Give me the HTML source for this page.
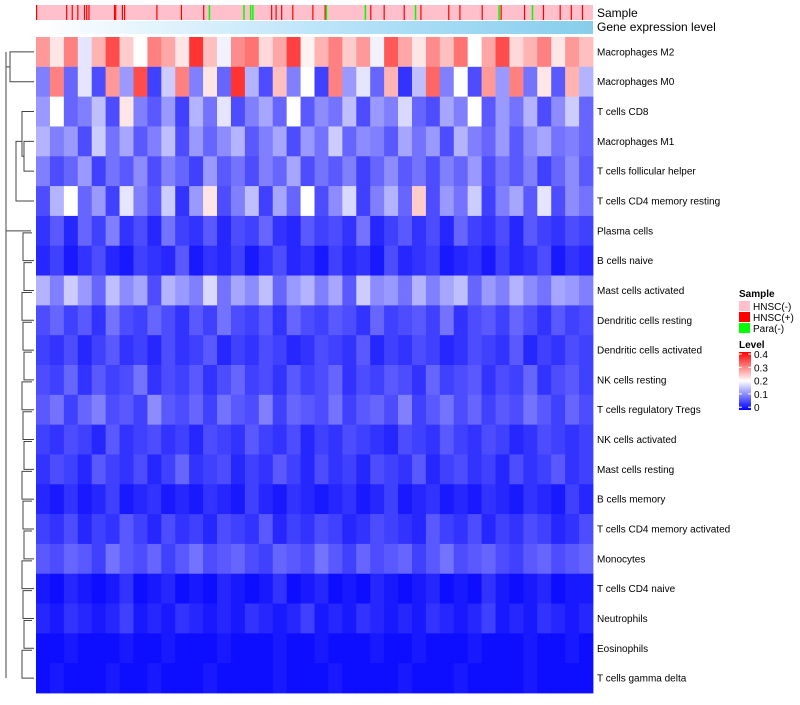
<!DOCTYPE html>
<html><head><meta charset="utf-8"><style>
body{margin:0;background:#fff;font-family:"Liberation Sans",sans-serif;}
svg text{font-family:"Liberation Sans",sans-serif;}
</style></head><body>
<svg id="c" width="800" height="700"></svg>
<script>
const rowNames=["Macrophages M2","Macrophages M0","T cells CD8","Macrophages M1","T cells follicular helper","T cells CD4 memory resting","Plasma cells","B cells naive","Mast cells activated","Dendritic cells resting","Dendritic cells activated","NK cells resting","T cells regulatory  Tregs","NK cells activated","Mast cells resting","B cells memory","T cells CD4 memory activated","Monocytes","T cells CD4 naive","Neutrophils","Eosinophils","T cells gamma delta"];
const values=[
[.28,.22,.3,.18,.26,.34,.24,.2,.3,.27,.22,.36,.25,.19,.29,.31,.23,.27,.35,.21,.26,.3,.24,.28,.19,.33,.27,.22,.29,.25,.31,.2,.27,.34,.23,.26,.3,.22,.28,.25],
[.1,.3,.08,.18,.06,.28,.12,.34,.05,.16,.3,.1,.22,.08,.36,.14,.06,.25,.1,.2,.05,.3,.12,.18,.08,.26,.04,.15,.32,.1,.2,.06,.28,.12,.3,.09,.22,.07,.26,.14],
[.12,.2,.08,.1,.15,.06,.22,.1,.07,.12,.05,.14,.09,.18,.06,.1,.13,.08,.2,.07,.11,.09,.15,.06,.12,.1,.17,.08,.06,.13,.1,.2,.07,.12,.09,.14,.06,.11,.16,.08],
[.14,.1,.12,.06,.16,.09,.13,.07,.1,.15,.06,.12,.08,.11,.14,.07,.1,.13,.06,.12,.09,.16,.08,.11,.1,.07,.13,.09,.12,.06,.14,.1,.08,.12,.07,.11,.13,.09,.1,.08],
[.1,.06,.08,.12,.05,.09,.07,.11,.06,.1,.08,.05,.12,.07,.09,.06,.1,.08,.13,.06,.09,.07,.1,.05,.08,.11,.07,.09,.06,.1,.08,.12,.06,.09,.07,.1,.05,.08,.11,.07],
[.06,.14,.2,.08,.12,.05,.18,.1,.07,.16,.04,.12,.22,.06,.1,.15,.05,.13,.08,.2,.06,.11,.17,.05,.1,.14,.08,.24,.06,.12,.09,.16,.05,.1,.13,.07,.18,.06,.11,.09],
[.04,.07,.03,.08,.05,.1,.04,.06,.03,.09,.05,.04,.07,.03,.06,.05,.08,.04,.03,.07,.05,.06,.04,.09,.03,.05,.07,.04,.06,.03,.08,.05,.04,.06,.03,.07,.05,.04,.06,.05],
[.03,.05,.02,.04,.06,.03,.02,.05,.04,.03,.07,.02,.04,.03,.05,.02,.04,.06,.03,.04,.02,.05,.03,.04,.02,.06,.03,.04,.05,.02,.03,.04,.02,.05,.03,.04,.06,.02,.04,.03],
[.14,.1,.16,.12,.08,.15,.11,.13,.06,.14,.12,.1,.17,.09,.13,.11,.15,.08,.12,.14,.1,.13,.07,.16,.11,.12,.09,.14,.1,.13,.15,.08,.12,.1,.14,.11,.09,.13,.12,.1],
[.06,.08,.05,.07,.04,.09,.06,.05,.08,.06,.04,.07,.05,.09,.06,.05,.07,.04,.08,.06,.05,.07,.06,.04,.08,.05,.06,.07,.05,.09,.04,.06,.07,.05,.08,.06,.04,.07,.05,.06],
[.05,.04,.06,.03,.05,.07,.04,.05,.03,.06,.04,.05,.07,.03,.05,.04,.06,.05,.03,.04,.06,.05,.04,.07,.03,.05,.04,.06,.05,.03,.04,.06,.05,.04,.07,.03,.05,.04,.06,.05],
[.06,.05,.08,.04,.07,.05,.06,.09,.04,.06,.05,.07,.04,.06,.08,.05,.06,.04,.07,.05,.06,.08,.04,.06,.05,.07,.06,.04,.08,.05,.06,.07,.04,.06,.05,.08,.04,.06,.07,.05],
[.07,.09,.05,.08,.1,.06,.07,.05,.11,.07,.06,.08,.05,.09,.07,.06,.1,.05,.08,.07,.06,.09,.05,.07,.08,.06,.1,.05,.07,.09,.06,.08,.05,.07,.06,.09,.07,.05,.08,.06],
[.05,.04,.06,.05,.03,.07,.04,.05,.06,.04,.05,.03,.06,.05,.04,.07,.05,.04,.06,.03,.05,.04,.06,.05,.04,.03,.06,.05,.04,.07,.05,.04,.06,.05,.03,.04,.06,.05,.04,.05],
[.04,.06,.05,.03,.07,.05,.04,.06,.03,.05,.08,.04,.05,.06,.03,.05,.04,.07,.05,.03,.06,.04,.05,.03,.06,.05,.04,.07,.03,.05,.06,.04,.05,.03,.06,.04,.05,.07,.04,.05],
[.03,.02,.04,.02,.03,.05,.02,.03,.04,.02,.03,.02,.04,.03,.02,.05,.03,.02,.04,.03,.02,.03,.04,.02,.03,.05,.02,.03,.04,.02,.03,.02,.04,.03,.02,.04,.03,.02,.05,.03],
[.05,.04,.06,.03,.05,.04,.07,.05,.03,.06,.04,.05,.03,.06,.05,.04,.07,.03,.05,.04,.06,.05,.03,.04,.06,.05,.04,.03,.07,.05,.04,.06,.03,.05,.04,.06,.05,.03,.04,.06],
[.07,.06,.08,.07,.05,.09,.07,.06,.08,.05,.07,.09,.06,.07,.08,.06,.05,.08,.07,.06,.09,.07,.05,.08,.06,.07,.08,.05,.07,.09,.06,.07,.08,.06,.05,.07,.08,.06,.07,.08],
[.02,.01,.03,.02,.01,.02,.04,.01,.02,.03,.01,.02,.01,.03,.02,.01,.02,.04,.01,.02,.03,.01,.02,.01,.03,.02,.01,.02,.03,.01,.02,.01,.04,.02,.01,.02,.03,.01,.02,.02],
[.03,.02,.04,.03,.02,.03,.05,.02,.03,.02,.04,.03,.02,.03,.02,.04,.03,.02,.03,.05,.02,.03,.02,.04,.03,.02,.03,.02,.04,.03,.02,.03,.05,.02,.03,.02,.04,.03,.02,.03],
[.01,.01,.02,.01,.01,.01,.02,.01,.01,.02,.01,.01,.01,.02,.01,.01,.01,.02,.01,.01,.02,.01,.01,.01,.02,.01,.01,.02,.01,.01,.01,.02,.01,.01,.01,.02,.01,.01,.02,.01],
[.01,.02,.01,.01,.01,.02,.01,.01,.02,.01,.01,.01,.02,.01,.01,.01,.01,.02,.01,.01,.01,.02,.01,.01,.01,.01,.02,.01,.01,.01,.02,.01,.01,.01,.01,.02,.01,.01,.01,.01]
];
const nSamples=500;
const hnscPos=[0,27,32,37,43,45,47,70,71,77,79,108,130,150,211,215,220,230,248,259,300,312,330,345,370,380,400,417,438,455,470,480,490];
const paraPos=[155,186,192,194,260,295,340,415,445];
const legendTicks=["0.4","0.3","0.2","0.1","0"];

const svg=document.getElementById('c');
const NS='http://www.w3.org/2000/svg';
function mk(t,a,p){const e=document.createElementNS(NS,t);for(const k in a)e.setAttribute(k,a[k]);(p||svg).appendChild(e);return e;}
const X0=36,X1=593,Y0=37,Y1=693;
const nCols=values[0].length;
const rowH=(Y1-Y0)/rowNames.length, colW=(X1-X0)/nCols;
const xs=i=>X0+i*colW, ys=r=>Y0+r*rowH;
function col(v){v=Math.max(0,Math.min(.4,v));let r,g,b;
 if(v<.2){const t=v/.2;r=Math.round(255*t);g=r;b=255;}else{const t=(v-.2)/.2;r=255;g=Math.round(255*(1-t));b=g;}
 return `rgb(${r},${g},${b})`;}
const sb=mk('rect',{x:X0,y:5,width:X1-X0,height:15,fill:'#FFC0CB'});

const sw=(X1-X0)/nSamples;
hnscPos.forEach(p=>{const e=mk('rect',{x:X0+p*sw,y:5,width:Math.max(1.2,sw),height:15,fill:'#FF0000'});
 });
paraPos.forEach(p=>{const e=mk('rect',{x:X0+p*sw,y:5,width:Math.max(1.5,sw),height:15,fill:'#00FF00'});
 });
const defs=mk('defs',{});
const lg=mk('linearGradient',{id:'ge',x1:0,x2:1,y1:0,y2:0},defs);
mk('stop',{offset:0,'stop-color':'#ffffff'},lg);mk('stop',{offset:.6,'stop-color':'#b0e0f8'},lg);mk('stop',{offset:1,'stop-color':'#87CEEB'},lg);
const lg2=mk('linearGradient',{id:'lv',x1:0,x2:0,y1:0,y2:1},defs);
mk('stop',{offset:0,'stop-color':'#ff0000'},lg2);mk('stop',{offset:.5,'stop-color':'#ffffff'},lg2);mk('stop',{offset:1,'stop-color':'#0000ff'},lg2);
const gb=mk('rect',{x:X0,y:21,width:X1-X0,height:13,fill:'url(#ge)'});

let t=mk('text',{x:597,y:17,'font-size':12});t.textContent='Sample';

t=mk('text',{x:597,y:31,'font-size':12});t.textContent='Gene expression level';

values.forEach((row,r)=>{row.forEach((v,i)=>{const e=mk('rect',{x:xs(i),y:ys(r),width:colW+0.4,height:rowH+0.4,fill:col(v)});
 });
 const l=mk('text',{x:597,y:ys(r)+rowH/2+3.5,'font-size':10});l.textContent=rowNames[r];
 });
const cy=r=>ys(r)+rowH/2;
const dg=mk('g',{stroke:'#444','stroke-width':1,fill:'none'});

function link(y1,y2,x,xa,xb){mk('path',{d:`M${xa},${y1}H${x}V${y2}H${xb}`},dg);}
link(cy(0),cy(1),10,X0-2,X0-2);
link(cy(3),cy(4),24,X0-2,X0-2);
link(cy(2),(cy(3)+cy(4))/2,22,X0-2,24);
link(cy(5),(cy(2)+cy(4))/2,16,X0-2,22);
link((cy(0)+cy(1))/2,cy(6),6,10,X0-5);
for(let r=7;r<22;r++){link(cy(r-1)+2,cy(r),22+ (r%3),X0-4,X0-2);}
mk('path',{d:`M6,${cy(0)}V${cy(21)}`},dg);
t=mk('text',{x:739,y:297,'font-size':10,'font-weight':'bold'});t.textContent='Sample';

[['HNSC(-)','#FFC0CB'],['HNSC(+)','#FF0000'],['Para(-)','#00FF00']].forEach((d,i)=>{
 const e=mk('rect',{x:739,y:301+i*11,width:11,height:10,fill:d[1]});
 
 const tt=mk('text',{x:753,y:310+i*11,'font-size':10});tt.textContent=d[0];
 });
t=mk('text',{x:739,y:348,'font-size':10,'font-weight':'bold'});t.textContent='Level';

const lb=mk('rect',{x:739,y:352,width:12,height:58,fill:'url(#lv)'});

legendTicks.forEach((s,i)=>{const yy=354+i*13.3;
 mk('line',{x1:739,x2:742,y1:yy,y2:yy,stroke:'#fff'});mk('line',{x1:748,x2:751,y1:yy,y2:yy,stroke:'#fff'});
 const tt=mk('text',{x:754,y:yy+4,'font-size':10});tt.textContent=s;
 });
</script>
</body></html>
